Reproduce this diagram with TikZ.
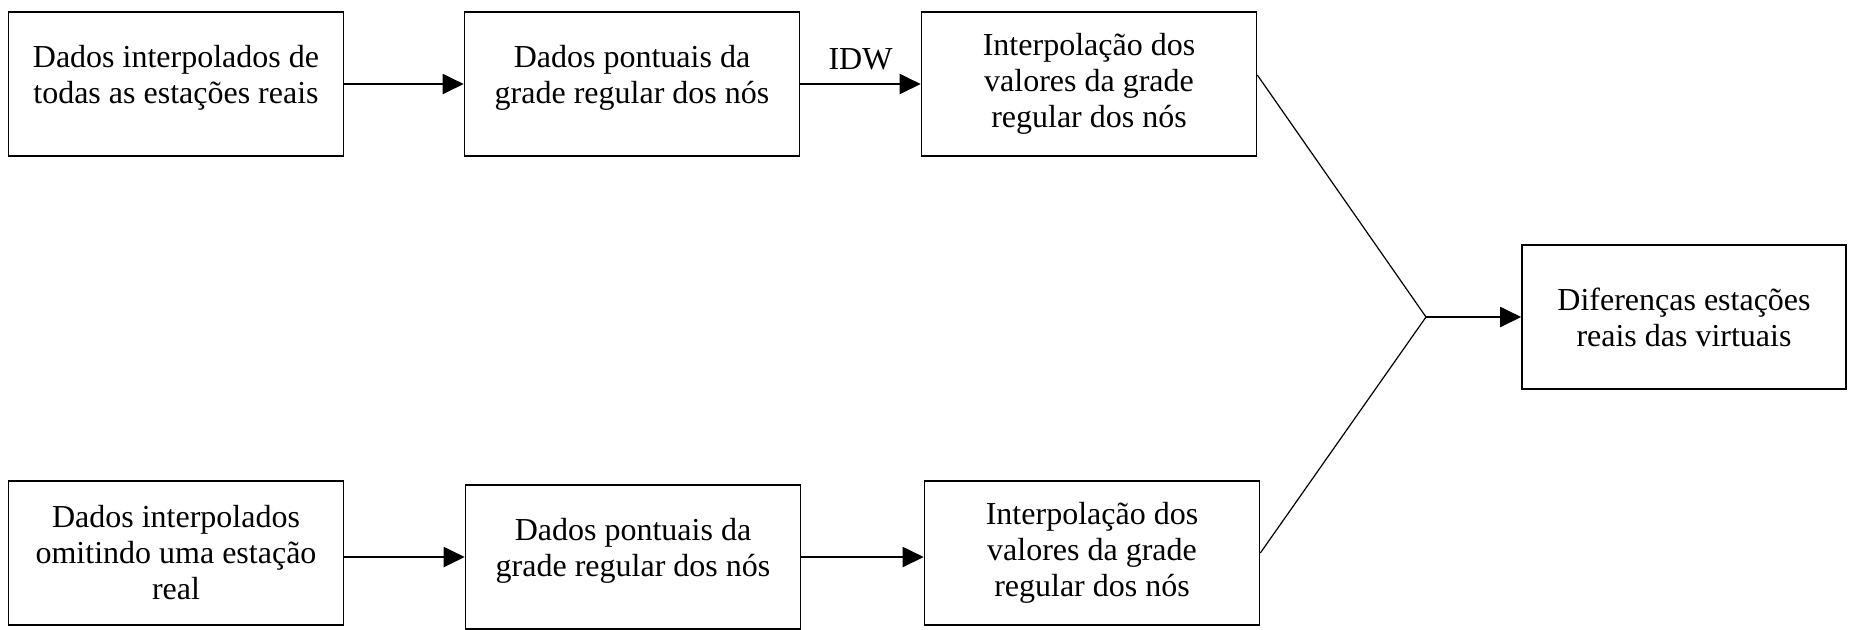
\documentclass[tikz,border=0pt]{standalone}
\usepackage{fontspec}
\setmainfont{Liberation Serif}
\usetikzlibrary{arrows.meta}

\begin{document}
\begin{tikzpicture}[x=0.5pt,y=-0.5pt,
    box/.style={draw,line width=0.8pt,minimum width=167.5pt,minimum height=72pt,
        inner sep=0pt,align=center,font=\fontsize{16}{18}\selectfont},
    raised/.style={text depth=10pt},
    arr/.style={line width=1pt,-{Triangle[length=10.5pt,width=10pt]}},
    link/.style={line width=0.6pt}]
    \useasboundingbox (0,0) rectangle (1856,629);

    % Upper chain: all real stations
    \node[box,raised] (a1) at (176,84) {Dados interpolados de\\todas as estações reais};
    \node[box,raised] (a2) at (632,84) {Dados pontuais da\\grade regular dos nós};
    \node[box] (a3) at (1089,84) {Interpolação dos\\valores da grade\\regular dos nós};
    \draw[arr] (a1) -- (a2);
    \draw[arr] (a2) -- (a3) node[midway,above=3pt,font=\fontsize{16}{18}\selectfont] (idw) {IDW};

    % Lower chain: one station left out
    \node[box] (b1) at (176,553) {Dados interpolados\\omitindo uma estação\\real};
    \node[box,raised] (b2) at (633,557) {Dados pontuais da\\grade regular dos nós};
    \node[box] (b3) at (1092,553) {Interpolação dos\\valores da grade\\regular dos nós};
    \draw[arr] (b1.east |- b2.west) -- (b2.west);
    \draw[arr] (b2.east) -- (b2.east -| b3.west);

    % Both chains meet in the differences
    \node[box,minimum width=162pt] (d) at (1684,317) {Diferenças estações\\reais das virtuais};
    \coordinate (j) at (1426,317);
    \draw[link] ([yshift=4.5pt]a3.east) -- (j);
    \draw[link] (b3.east) -- (j);
    \draw[arr] (j) -- (d);
\end{tikzpicture}
\end{document}
